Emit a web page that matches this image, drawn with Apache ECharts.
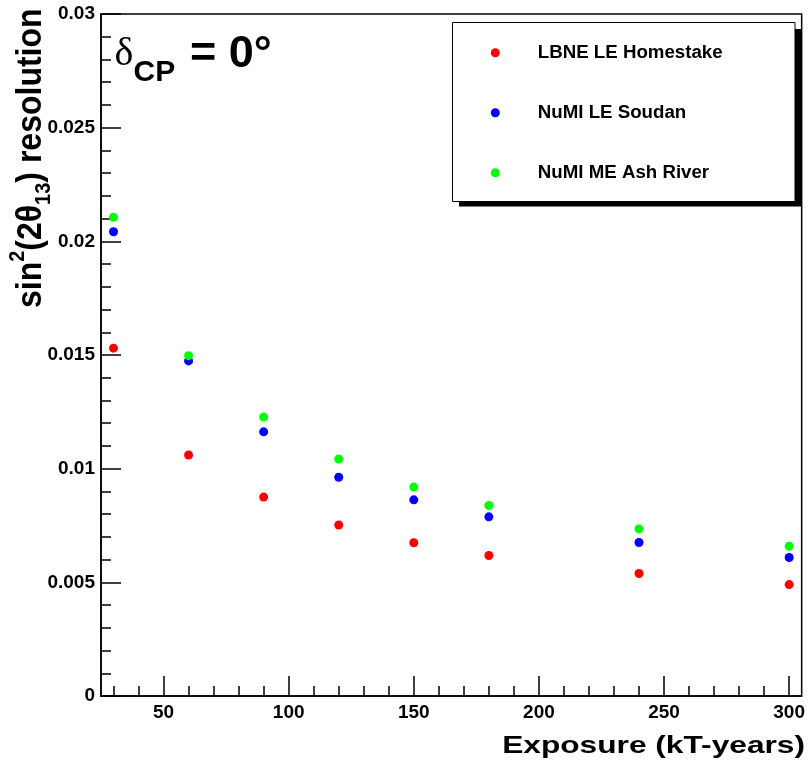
<!DOCTYPE html>
<html><head><meta charset="utf-8">
<script src="https://cdn.jsdelivr.net/npm/echarts@6/dist/echarts.min.js"></script>
<style>html,body{margin:0;padding:0;background:#fff}#c{width:808px;height:766px}</style>
</head><body><div id="c"></div>
<script>
const exposure = [30, 60, 90, 120, 150, 180, 240, 300];
const lbneHomestake = [0.0153, 0.0106, 0.00875, 0.00752, 0.00674, 0.00618, 0.00539, 0.0049];
const numiLeSoudan = [0.02042, 0.01474, 0.01162, 0.00962, 0.00863, 0.00788, 0.00675, 0.00609];
const numiMeAshRiver = [0.02106, 0.01497, 0.01227, 0.01042, 0.00919, 0.00838, 0.00735, 0.00659];
const seriesNames = ['LBNE LE Homestake', 'NuMI LE Soudan', 'NuMI ME Ash River'];
const seriesColors = ['#ff0000', '#0000ff', '#00ff00'];
const xMajorTicks = [50, 100, 150, 200, 250, 300];
const xMinorTicks = [30, 40, 60, 70, 80, 90, 110, 120, 130, 140, 160, 170, 180, 190, 210, 220, 230, 240, 260, 270, 280, 290];

const FONT = 'Liberation Sans';
const chart = echarts.init(document.getElementById('c'), null, {renderer: 'canvas'});
const allValues = [lbneHomestake, numiLeSoudan, numiMeAshRiver];

chart.setOption({
  animation: false,
  backgroundColor: '#fff',
  grid: {left: 101, top: 14, right: 5, bottom: 70, show: true, borderColor: '#000', borderWidth: 1.5, backgroundColor: 'transparent'},
  xAxis: [{
    type: 'value', min: 25, max: 305,
    axisLine: {show: true, lineStyle: {color: '#000', width: 1.5}},
    axisTick: {show: true, inside: true, length: 20, customValues: xMajorTicks, lineStyle: {color: '#000', width: 1.5}},
    axisLabel: {show: true, customValues: xMajorTicks, fontFamily: FONT, fontWeight: 'bold', fontSize: 19, color: '#000', margin: 7},
    splitLine: {show: false}
  }, {
    type: 'value', min: 25, max: 305, position: 'bottom',
    axisLine: {show: false},
    axisTick: {show: true, inside: true, length: 10, customValues: xMinorTicks, lineStyle: {color: '#000', width: 1.5}},
    axisLabel: {show: false},
    splitLine: {show: false}
  }],
  yAxis: {
    type: 'value', min: 0, max: 0.03, interval: 0.005,
    axisLine: {show: true, lineStyle: {color: '#000', width: 1.5}},
    axisTick: {show: true, inside: true, length: 20, lineStyle: {color: '#000', width: 1.5}},
    minorTick: {show: true, splitNumber: 5, length: 10, lineStyle: {color: '#000', width: 1.5}},
    axisLabel: {fontFamily: FONT, fontWeight: 'bold', fontSize: 19, color: '#000', margin: 6},
    splitLine: {show: false},
    minorSplitLine: {show: false}
  },
  legend: {
    orient: 'vertical', left: 490.8, top: 42.7, padding: 0,
    itemWidth: 9, itemHeight: 9, itemGap: 40, icon: 'circle',
    selectedMode: false, z: 20,
    itemStyle: {opacity: 1},
    textStyle: {fontFamily: FONT, fontWeight: 'bold', fontSize: 18.7, color: '#000', lineHeight: 20, padding: [0, 0, 0, 33]},
    data: seriesNames
  },
  series: seriesNames.map((name, k) => ({
    name: name, type: 'scatter', xAxisIndex: 0, symbol: 'circle', symbolSize: 9,
    itemStyle: {color: seriesColors[k], opacity: 1},
    emphasis: {disabled: true},
    data: exposure.map((x, i) => [x, allValues[k][i]])
  })),
  graphic: [
    {type: 'rect', z: 1, shape: {x: 459, y: 29, width: 342, height: 177.5}, style: {fill: '#000'}},
    {type: 'rect', z: 2, shape: {x: 452.5, y: 22.5, width: 342.5, height: 179}, style: {fill: '#fff', stroke: '#000', lineWidth: 1}},
    {type: 'text', z: 3, x: 114.5, y: 54.5, style: {text: 'δ', font: 'normal 40px "Liberation Serif"', fill: '#000', align: 'left', verticalAlign: 'middle'}},
    {type: 'text', z: 3, x: 133.5, y: 73, style: {text: 'CP', font: 'bold 30px "Liberation Sans"', fill: '#000', align: 'left', verticalAlign: 'middle'}},
    {type: 'text', z: 3, x: 190, y: 55, style: {text: '= 0°', font: 'bold 45px "Liberation Sans"', fill: '#000', align: 'left', verticalAlign: 'middle'}},
    {type: 'text', z: 3, x: 805, y: 746, scaleX: 1.32, style: {text: 'Exposure (kT-years)', font: 'bold 24px "Liberation Sans"', fill: '#000', align: 'right', verticalAlign: 'middle'}},
    {type: 'text', z: 3, x: 31, y: 308, rotation: Math.PI / 2, scaleY: 1.08, style: {
      text: '{m|sin}{sup|2}{m|(2θ}{sub|13}{m|) resolution}',
      align: 'left', verticalAlign: 'middle', fill: '#000',
      rich: {
        m: {fontFamily: FONT, fontWeight: 'bold', fontSize: 32, lineHeight: 44, fill: '#000'},
        sup: {fontFamily: FONT, fontWeight: 'bold', fontSize: 20, lineHeight: 20, verticalAlign: 'top', fill: '#000'},
        sub: {fontFamily: FONT, fontWeight: 'bold', fontSize: 20, lineHeight: 20, verticalAlign: 'bottom', fill: '#000'}
      }
    }}
  ]
});
</script></body></html>
